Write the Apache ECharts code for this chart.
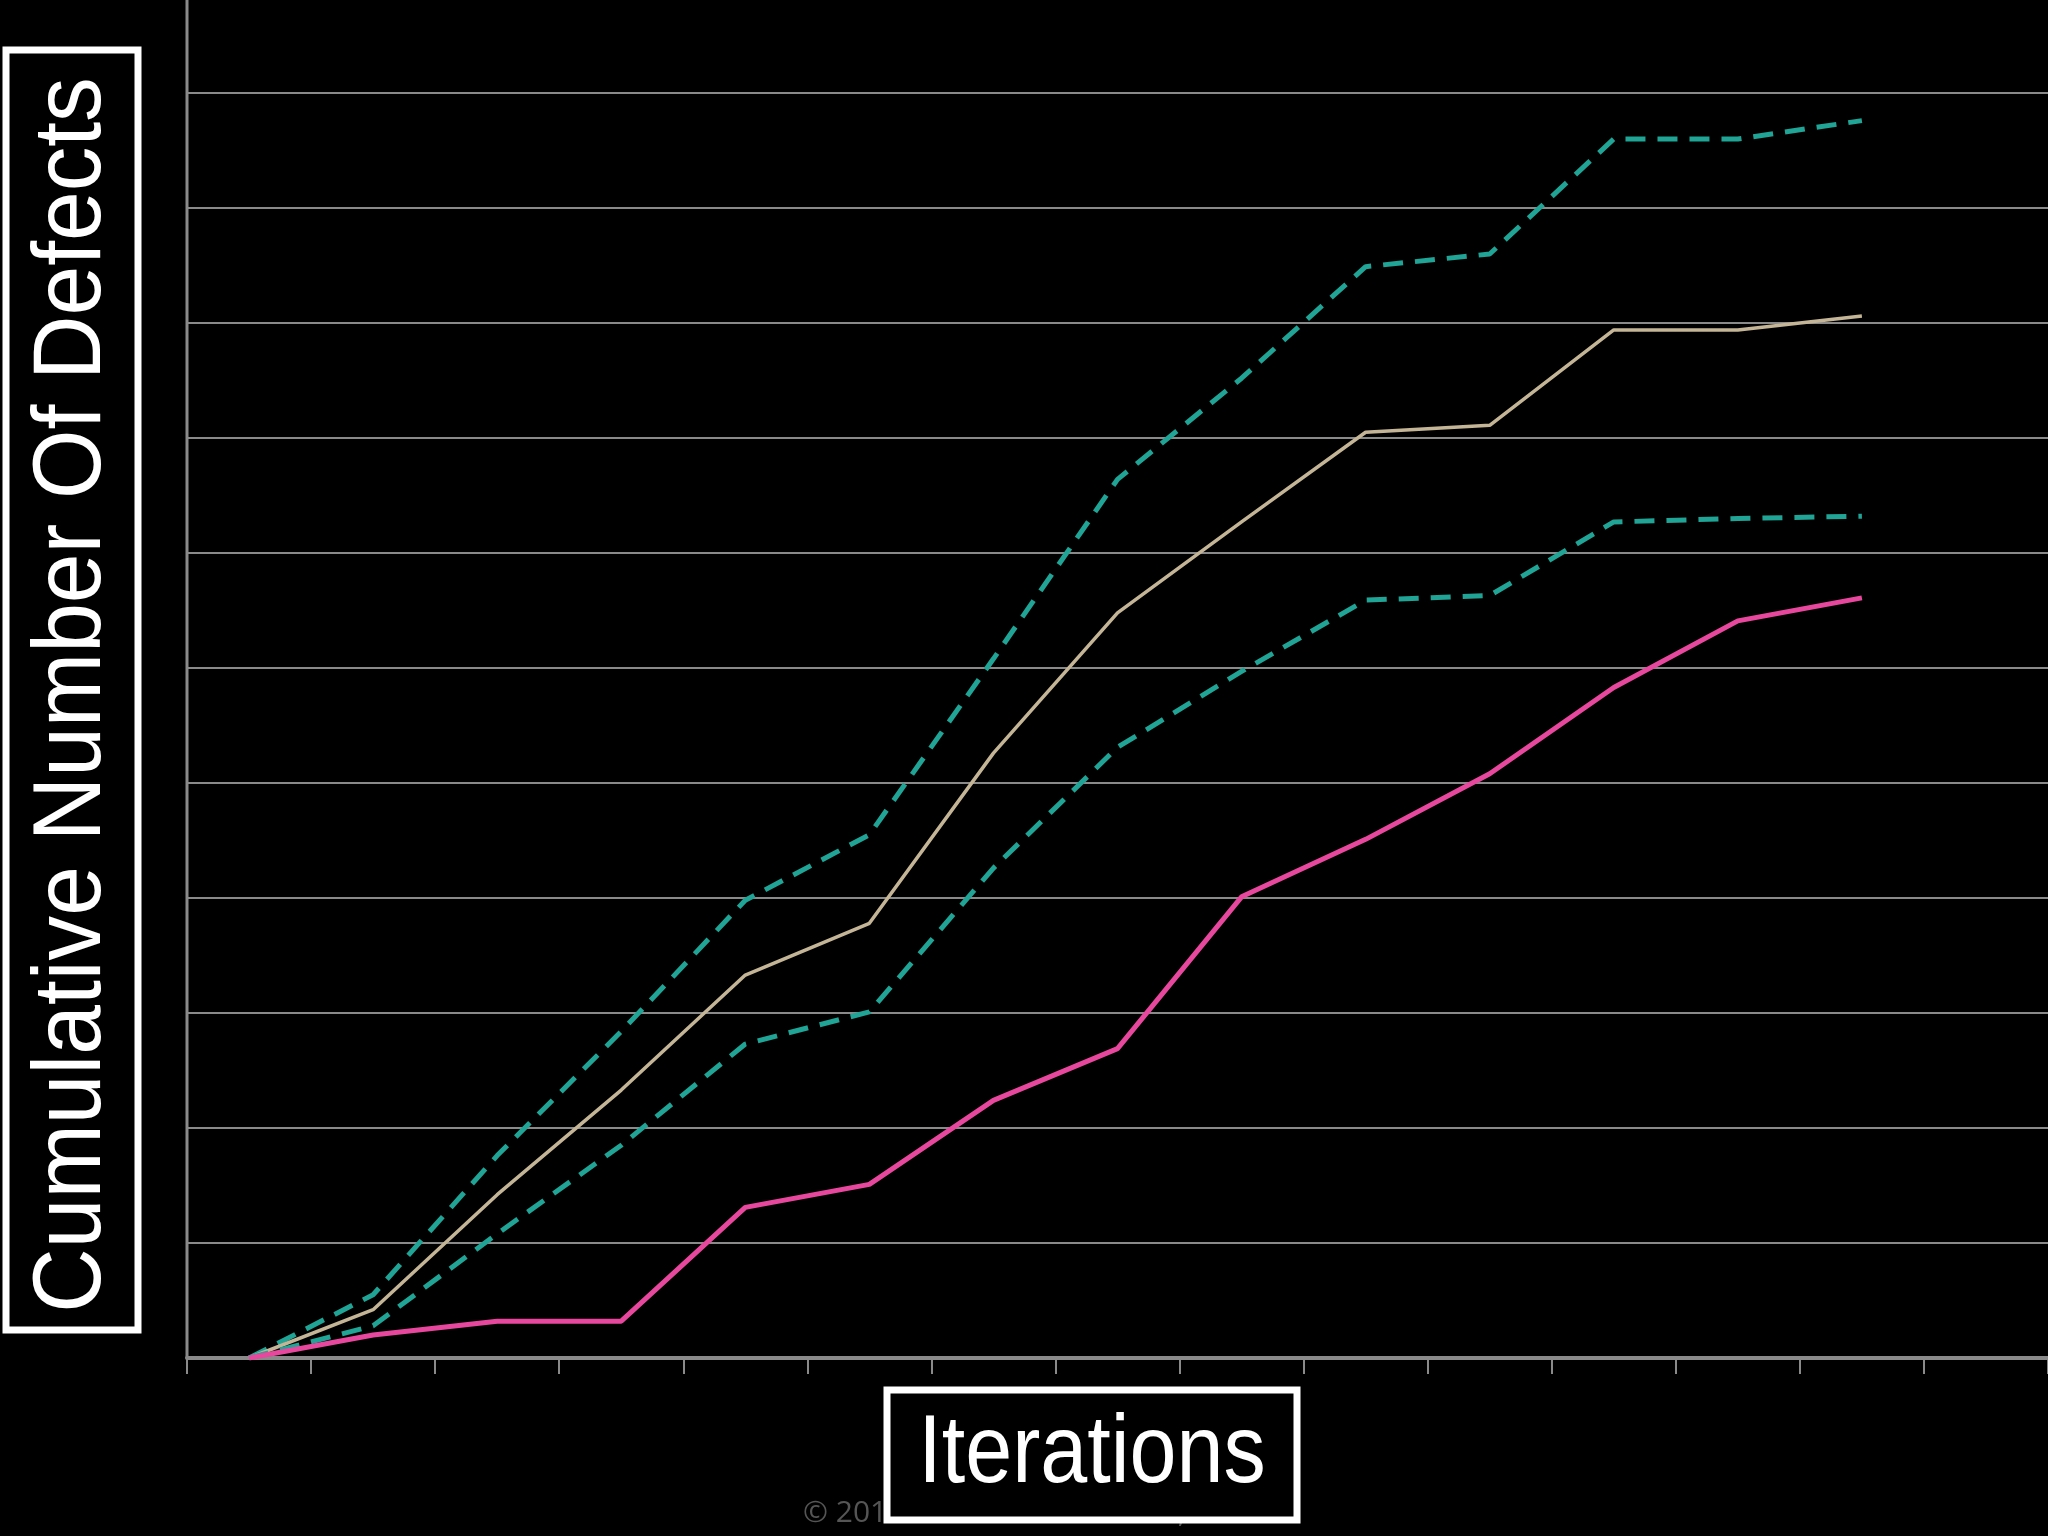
<!DOCTYPE html>
<html>
<head>
<meta charset="utf-8">
<script src="https://cdn.jsdelivr.net/npm/echarts@6/dist/echarts.min.js"></script>
<style>
  html, body { margin: 0; padding: 0; background: #000; }
  #chart { width: 2048px; height: 1536px; }
</style>
</head>
<body>
<div id="chart"></div>
<script>
var iterations = ['1', '2', '3', '4', '5', '6', '7', '8', '9', '10', '11', '12', '13', '14', '15'];
var upperBound = [0, 0.55, 1.76, 2.84, 3.98, 4.55, 6.08, 7.64, 8.52, 9.49, 9.6, 10.6, 10.6, 10.76, null];
var expected = [0, 0.42, 1.42, 2.33, 3.33, 3.78, 5.26, 6.48, 7.27, 8.05, 8.11, 8.94, 8.94, 9.06, null];
var lowerBound = [0, 0.28, 1.08, 1.85, 2.73, 3.01, 4.26, 5.31, 5.97, 6.59, 6.63, 7.27, 7.3, 7.32, null];
var actual = [0, 0.2, 0.32, 0.32, 1.31, 1.51, 2.24, 2.69, 4.01, 4.51, 5.08, 5.83, 6.41, 6.61, null];

var chart = echarts.init(document.getElementById('chart'));
var teal = '#1fa496';

chart.setOption({
    backgroundColor: '#000',
    animation: false,
    grid: { left: 187, right: 0, top: 93, bottom: 178 },
    xAxis: {
        type: 'category',
        data: iterations,
        boundaryGap: true,
        axisLine: { lineStyle: { color: '#8a8a8a', width: 4 } },
        axisTick: { show: true, length: 16, lineStyle: { color: '#8a8a8a', width: 2 } },
        axisLabel: { show: false }
    },
    yAxis: {
        type: 'value',
        min: 0,
        max: 11,
        interval: 1,
        axisLine: { show: false },
        axisLabel: { show: false },
        splitLine: { lineStyle: { color: '#8a8a8a', width: 2 } }
    },
    series: [
        { name: 'Upper', type: 'line', data: upperBound, symbol: 'none',
          lineStyle: { color: teal, width: 5, type: [20, 12] } },
        { name: 'Expected', type: 'line', data: expected, symbol: 'none',
          lineStyle: { color: '#c4b596', width: 3.5 } },
        { name: 'Lower', type: 'line', data: lowerBound, symbol: 'none',
          lineStyle: { color: teal, width: 5, type: [20, 12] } },
        { name: 'Actual', type: 'line', data: actual, symbol: 'none',
          lineStyle: { color: '#e8479e', width: 5 } }
    ],
    graphic: [
        { type: 'line', z: 1, shape: { x1: 187, y1: 0, x2: 187, y2: 1358 },
          style: { stroke: '#8a8a8a', lineWidth: 3 } },
        { type: 'text', z: 1, left: 803, top: 1498,
          style: { text: '\u00a9 2013 Motorola Solutions, Inc.', fill: '#555', font: '30px "Open Sans"' } },
        { type: 'rect', z: 10, shape: { x: 887, y: 1390, width: 410, height: 130 },
          style: { fill: '#000', stroke: '#fff', lineWidth: 7 } },
        { type: 'text', z: 11, x: 1092, y: 1456, scaleX: 0.88,
          style: { text: 'Iterations', fill: '#fff', font: '96px "Liberation Sans"',
                   textAlign: 'center', textVerticalAlign: 'middle' } },
        { type: 'rect', z: 10, shape: { x: 6, y: 50, width: 132, height: 1280 },
          style: { fill: '#000', stroke: '#fff', lineWidth: 7 } },
        { type: 'text', z: 11, x: 74, y: 695, rotation: Math.PI / 2, scaleX: 0.93,
          style: { text: 'Cumulative Number Of Defects', fill: '#fff', font: '96px "Liberation Sans"',
                   textAlign: 'center', textVerticalAlign: 'middle' } }
    ]
});
</script>
</body>
</html>
